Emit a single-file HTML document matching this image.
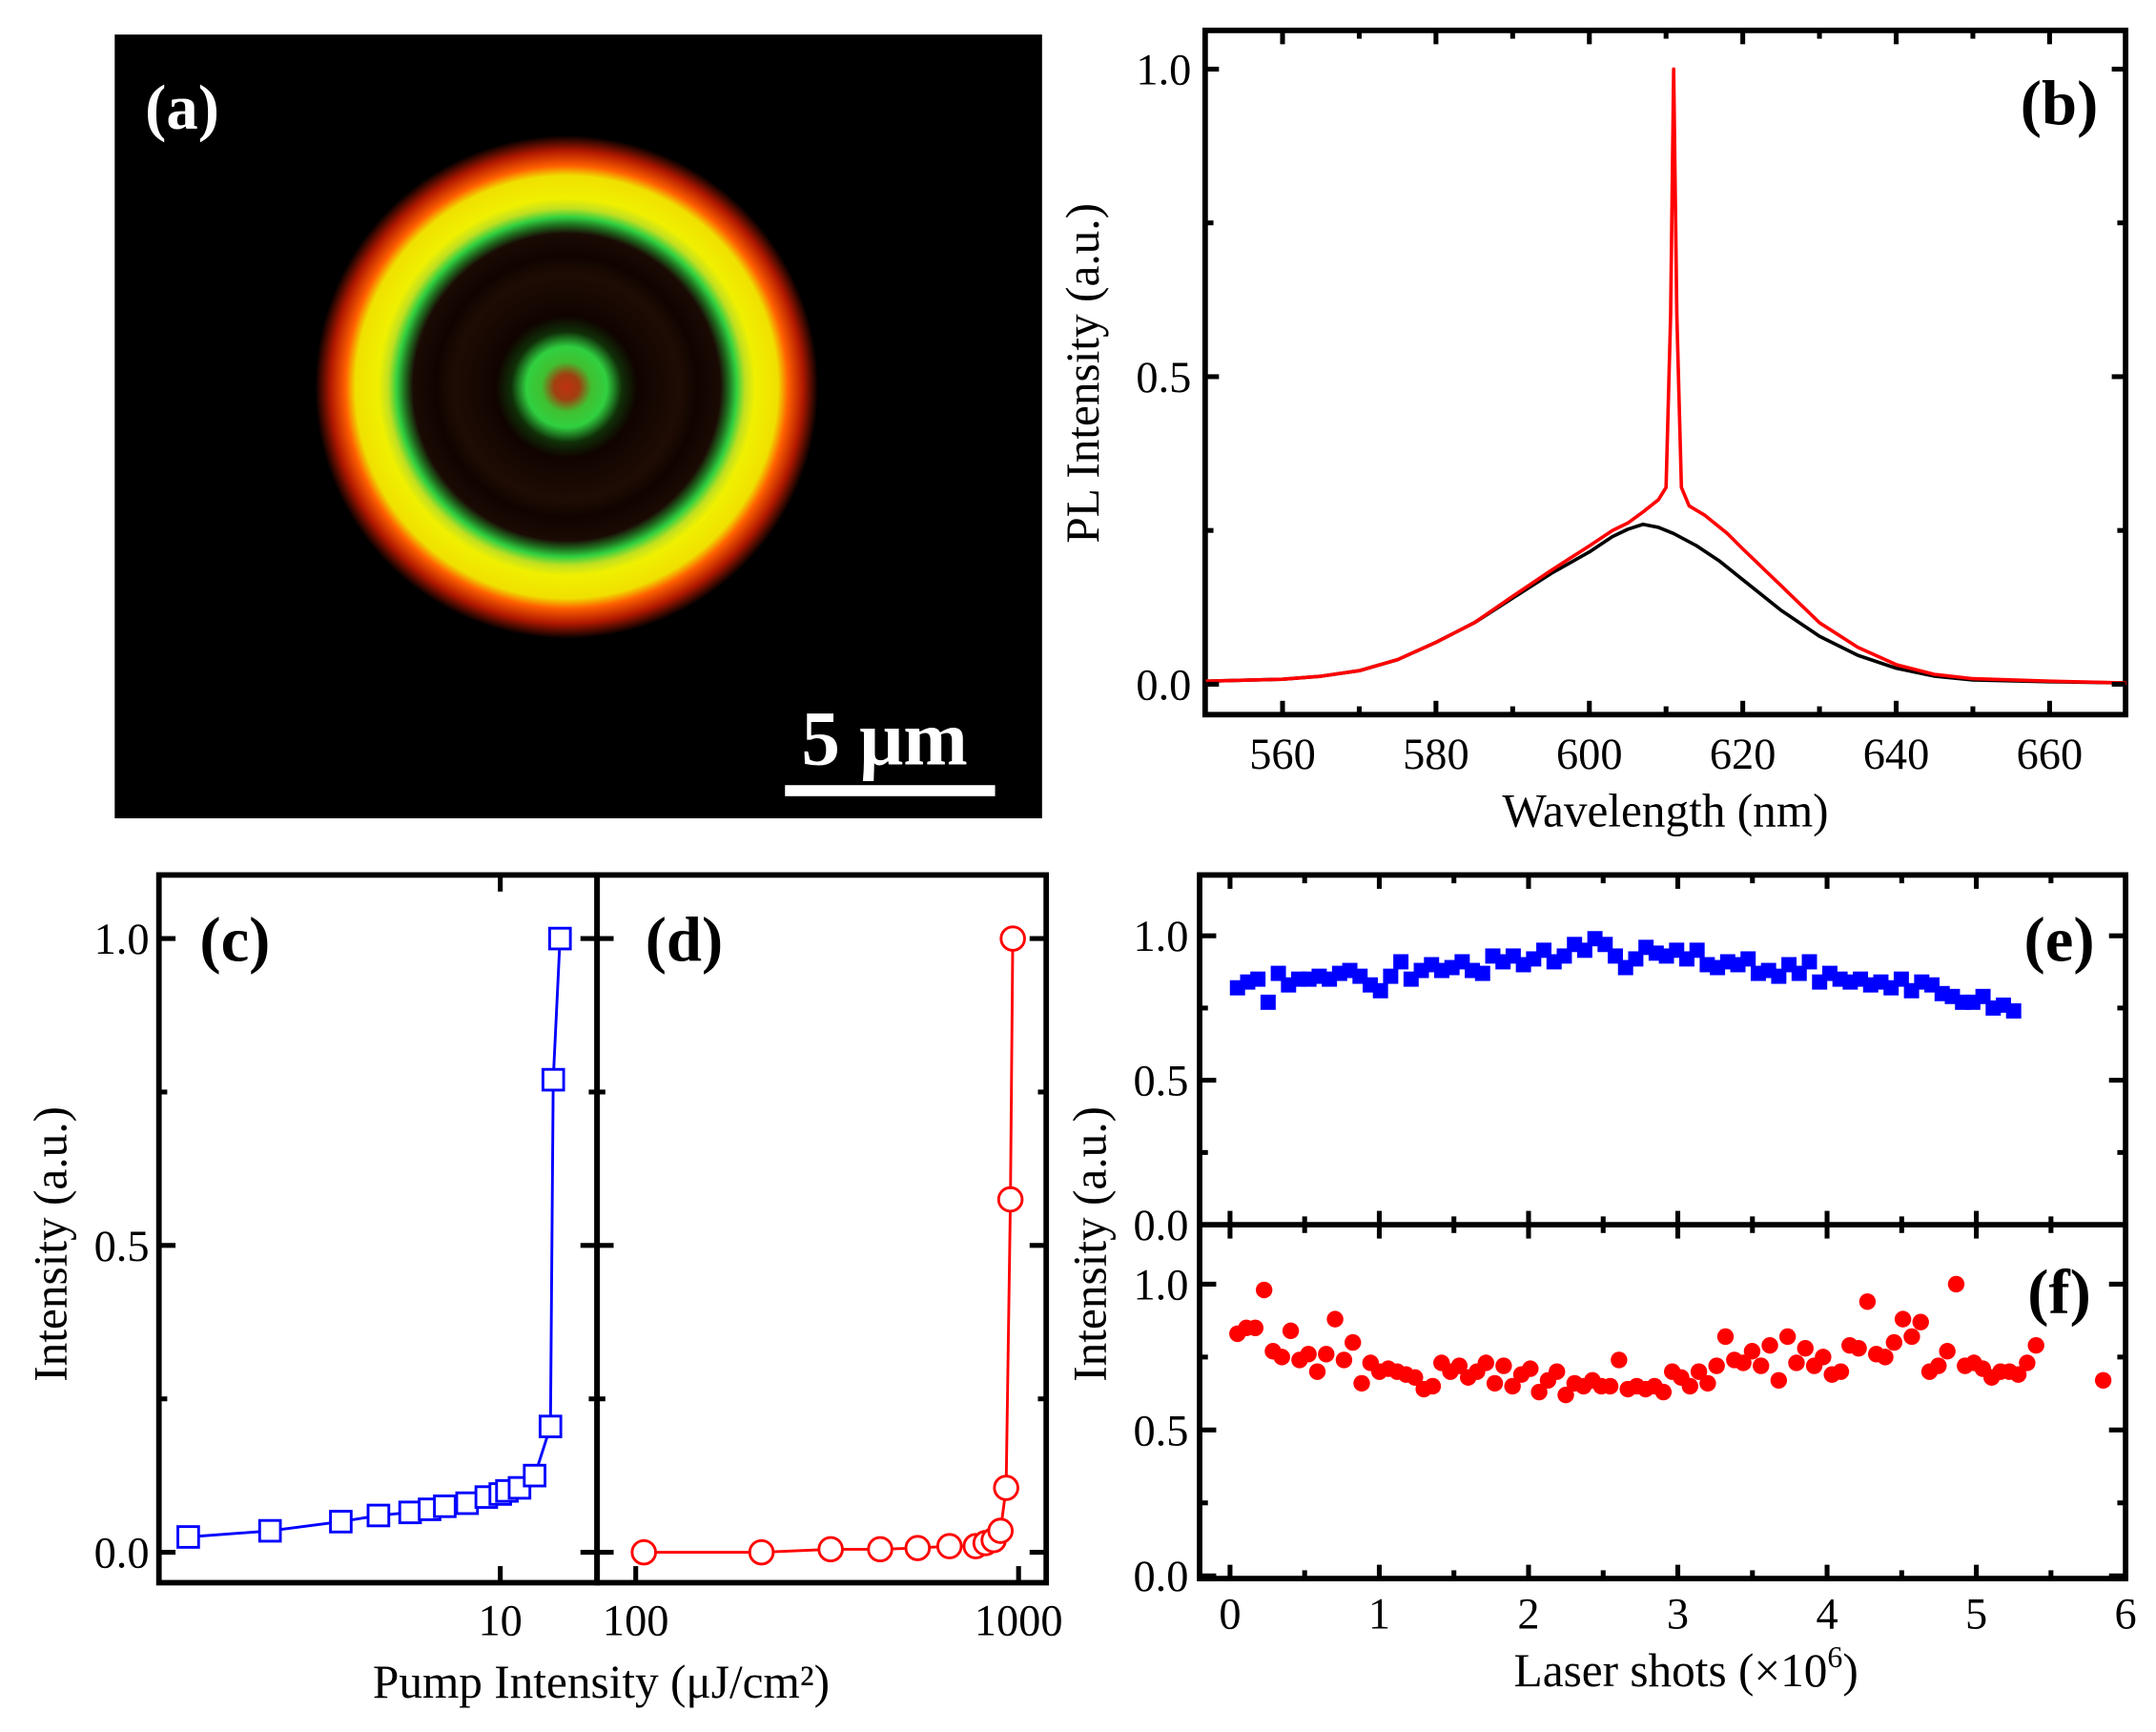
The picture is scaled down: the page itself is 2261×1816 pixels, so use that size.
<!DOCTYPE html>
<html><head><meta charset="utf-8"><style>
html,body{margin:0;padding:0;background:#fff;}
svg{display:block;}
text{font-family:"Liberation Serif",serif;}
</style></head><body>
<svg id="fig" width="2261" height="1816" viewBox="0 0 1560 1253" preserveAspectRatio="none" xmlns="http://www.w3.org/2000/svg">
<defs>
<radialGradient id="ringGrad" cx="0.5" cy="0.5" r="0.5">
<stop offset="0" stop-color="#c03010"/>
<stop offset="0.05" stop-color="#a04010"/>
<stop offset="0.10" stop-color="#40c030"/>
<stop offset="0.16" stop-color="#30d040"/>
<stop offset="0.22" stop-color="#103008"/>
<stop offset="0.28" stop-color="#100400"/>
<stop offset="0.45" stop-color="#1e0c04"/>
<stop offset="0.52" stop-color="#100400"/>
<stop offset="0.61" stop-color="#1a0a04"/>
<stop offset="0.645" stop-color="#207020"/>
<stop offset="0.675" stop-color="#30d040"/>
<stop offset="0.71" stop-color="#c0e020"/>
<stop offset="0.75" stop-color="#f0f000"/>
<stop offset="0.84" stop-color="#f0e000"/>
<stop offset="0.88" stop-color="#ff6000"/>
<stop offset="0.94" stop-color="#b01800"/>
<stop offset="1" stop-color="#000"/>
</radialGradient>
</defs>
<g>
<rect x="83" y="25" width="671" height="567" fill="#000"/>
<circle cx="410" cy="280" r="182" fill="url(#ringGrad)"/>
<text x="105" y="93" font-size="46" font-weight="bold" fill="#fff">(a)</text>
<text x="640" y="553" font-size="56" font-weight="bold" fill="#fff" text-anchor="middle">5 μm</text>
<rect x="568" y="568" width="152" height="8" fill="#fff"/>
</g>
<g id="gb"></g>
<g id="gcd"></g>
<g id="gef"></g>
</svg>
<script>
// ---- Panel b data ----
const bBlackX=[550,560,565,570,575,580,585,590,595,600,603,605,607,609,611,614,617,620,625,630,635,640,645,650,660,670];
const bBlackY=[0.005,0.008,0.013,0.022,0.04,0.068,0.10,0.14,0.18,0.215,0.24,0.252,0.26,0.255,0.245,0.225,0.2,0.17,0.12,0.078,0.047,0.026,0.013,0.007,0.004,0.002];
const bRedX=[550,560,565,570,575,580,585,590,595,600,603,605,607,609,610,610.6,611,611.4,612,613,615,618,620,625,630,635,640,645,650,660,670];
const bRedY=[0.005,0.008,0.013,0.022,0.04,0.068,0.10,0.143,0.185,0.225,0.25,0.262,0.28,0.3,0.32,0.6,1.0,0.6,0.32,0.29,0.275,0.245,0.22,0.16,0.10,0.06,0.032,0.016,0.009,0.005,0.002];
const bXTicks=[560,580,600,620,640,660];
const bYTicks=["0.0","0.5","1.0"];
// ---- Panel c data ----
const cX=[0.267,0.69,1.57,2.43,3.51,4.4,5.25,6.8,8.5,10,10.8,12.5,14.9,17.9,18.5,20];
const cY=[0.025,0.035,0.05,0.06,0.065,0.07,0.075,0.08,0.09,0.095,0.1,0.105,0.125,0.205,0.77,1.0];
// ---- Panel d data ----
const dX=[105,213,323,435,545,660,773,820,861,897,928,952,966];
const dY=[0,0,0.005,0.005,0.007,0.01,0.01,0.015,0.02,0.035,0.105,0.575,1.0];
const cdYTicks=["0.0","0.5","1.0"];
// ---- Panel e/f data ----
const eY=[0.82,0.84,0.85,0.77,0.87,0.83,0.85,0.85,0.86,0.85,0.87,0.88,0.86,0.83,0.81,0.86,0.91,0.85,0.88,0.9,0.88,0.89,0.91,0.88,0.87,0.93,0.91,0.93,0.9,0.92,0.95,0.91,0.93,0.97,0.95,0.99,0.97,0.93,0.89,0.92,0.96,0.94,0.93,0.95,0.92,0.95,0.9,0.89,0.91,0.9,0.92,0.87,0.88,0.86,0.9,0.87,0.91,0.84,0.87,0.85,0.84,0.85,0.83,0.84,0.82,0.85,0.81,0.84,0.83,0.8,0.79,0.77,0.77,0.79,0.75,0.76,0.74];
const eStart=0.05, eEnd=5.25;
const fY=[0.83,0.85,0.85,0.98,0.77,0.75,0.84,0.74,0.76,0.7,0.76,0.88,0.74,0.8,0.66,0.73,0.7,0.71,0.7,0.69,0.68,0.64,0.65,0.73,0.7,0.72,0.68,0.7,0.73,0.66,0.72,0.65,0.69,0.71,0.63,0.67,0.7,0.62,0.66,0.65,0.67,0.65,0.65,0.74,0.64,0.65,0.64,0.65,0.63,0.7,0.68,0.65,0.7,0.66,0.72,0.82,0.74,0.73,0.77,0.72,0.79,0.67,0.82,0.73,0.78,0.72,0.75,0.69,0.7,0.79,0.78,0.94,0.76,0.75,0.8,0.88,0.82,0.87,0.7,0.72,0.77,1.0,0.72,0.73,0.71,0.68,0.7,0.7,0.69,0.73,0.79];
const fStart=0.05, fEnd=5.4;
const fOutX=[5.85], fOutY=[0.67];
const efXTicks=[0,1,2,3,4,5,6];
const efYTicks=["0.0","0.5","1.0"];

const NS="http://www.w3.org/2000/svg";
function mk(parent,tag,attrs,txt){const e=document.createElementNS(NS,tag);for(const k in attrs)e.setAttribute(k,attrs[k]);if(txt!==undefined)e.textContent=txt;parent.appendChild(e);return e;}
function lin(d0,d1,r0,r1){return v=>r0+(v-d0)/(d1-d0)*(r1-r0);}
function lg(d0,d1,r0,r1){return v=>r0+(Math.log10(v)-Math.log10(d0))/(Math.log10(d1)-Math.log10(d0))*(r1-r0);}
function frame(g,x,y,w,h,name){const r=mk(g,'rect',{x:x,y:y,width:w,height:h,fill:'none',stroke:'#000','stroke-width':4});}
function tick(g,x1,y1,x2,y2){const t=mk(g,'line',{x1:x1,y1:y1,x2:x2,y2:y2,stroke:'#000','stroke-width':3.5});}
function label(g,x,y,s,txt,anchor,name,extra){const t=mk(g,'text',Object.assign({x:x,y:y,'font-size':s,'text-anchor':anchor||'middle'},extra||{}),txt);return t;}
function path(g,xs,ys,fx,fy,color,w,name){let d='';xs.forEach((v,i)=>{d+=(i?'L':'M')+fx(v).toFixed(1)+','+fy(ys[i]).toFixed(1);});const p=mk(g,'path',{d:d,fill:'none',stroke:color,'stroke-width':w,'stroke-linejoin':'round'});}

// Panel b
(function(){const g=document.getElementById('gb');
const X=lin(550,670,872.5,1538.5),Y=lin(0,1,495,50);
frame(g,872,22,666,495,'plot-frame-b');
path(g,bBlackX,bBlackY,X,Y,'#000',2.5,'spectrum-below-threshold');
path(g,bRedX,bRedY,X,Y,'#ff0000',2.5,'spectrum-above-threshold');
bXTicks.forEach(v=>{tick(g,X(v),517,X(v),507);tick(g,X(v),22,X(v),32);label(g,X(v),556,32,String(v),'middle','x-tick-label-b');});
[570,590,610,630,650].forEach(v=>{tick(g,X(v),517,X(v),511);tick(g,X(v),22,X(v),28);});
bYTicks.forEach(s=>{const v=parseFloat(s);tick(g,872,Y(v),882,Y(v));tick(g,1538,Y(v),1528,Y(v));label(g,862,Y(v)+11,32,s,'end','y-tick-label-b');});
[0.25,0.75].forEach(v=>{tick(g,872,Y(v),878,Y(v));tick(g,1538,Y(v),1532,Y(v));});
label(g,1205,598,34,'Wavelength (nm)','middle','x-axis-title-b');
label(g,795,270,34,'PL Intensity (a.u.)','middle','y-axis-title-b',{transform:'rotate(-90 795 270)'});
label(g,1490,90,46,'(b)','middle','panel-label-b',{'font-weight':'bold'});
})();

// Panels c,d
(function(){const g=document.getElementById('gcd');
const Y=lin(0,1,1123,679);
const Xc=lg(0.19,10,115,362), Xd=lg(100,1000,460,737);
frame(g,115,633,317,512,'plot-frame-c');
frame(g,432,633,325,512,'plot-frame-d');
cdYTicks.forEach(s=>{const v=parseFloat(s);tick(g,115,Y(v),127,Y(v));tick(g,432,Y(v),420,Y(v));tick(g,432,Y(v),444,Y(v));tick(g,757,Y(v),745,Y(v));label(g,108,Y(v)+11,32,s,'end','y-tick-label-c');});
[0.25,0.75].forEach(v=>{tick(g,115,Y(v),121,Y(v));tick(g,432,Y(v),426,Y(v));tick(g,432,Y(v),438,Y(v));tick(g,757,Y(v),751,Y(v));});
tick(g,Xc(10),1145,Xc(10),1133);tick(g,Xc(10),633,Xc(10),645);
tick(g,Xd(100),1145,Xd(100),1133);tick(g,Xd(1000),1145,Xd(1000),1133);
label(g,Xc(10),1183,32,'10','middle','x-tick-label-c');
label(g,Xd(100),1183,32,'100','middle','x-tick-label-d');
label(g,Xd(1000),1183,32,'1000','middle','x-tick-label-d');
path(g,cX,cY,Xc,Y,'#0000ff',2,'threshold-line-c');
cX.forEach((v,i)=>{const r=mk(g,'rect',{x:Xc(v)-7.5,y:Y(cY[i])-7.5,width:15,height:15,fill:'#fff',stroke:'#0000ff','stroke-width':2});

});
path(g,dX,dY,Xd,Y,'#ff0000',2,'threshold-line-d');
dX.forEach((v,i)=>{const c=mk(g,'circle',{cx:Xd(v),cy:Y(dY[i]),r:8.5,fill:'#fff',stroke:'#ff0000','stroke-width':2});

});
label(g,435,1228,34,'Pump Intensity (μJ/cm²)','middle','x-axis-title-cd');
label(g,48,900,34,'Intensity (a.u.)','middle','y-axis-title-cd',{transform:'rotate(-90 48 900)'});
label(g,170,695,46,'(c)','middle','panel-label-c',{'font-weight':'bold'});
label(g,495,695,46,'(d)','middle','panel-label-d',{'font-weight':'bold'});
})();

// Panels e,f
(function(){const g=document.getElementById('gef');
const X=lin(0,6,890,1538), Ye=lin(0,1,886,677), Yf=lin(0,1,1140,929);
frame(g,868,633,670,509,'plot-frame-ef');
const ln=mk(g,'line',{x1:868,y1:886,x2:1538,y2:886,stroke:'#000','stroke-width':4});

efXTicks.forEach(v=>{[[1142,-10],[633,10],[886,-10],[886,10]].forEach(p=>tick(g,X(v),p[0],X(v),p[0]+p[1]));label(g,X(v),1178,32,String(v),'middle','x-tick-label-ef');});
[0.5,1.5,2.5,3.5,4.5,5.5].forEach(v=>{[[1142,-6],[633,6],[886,-6],[886,6]].forEach(p=>tick(g,X(v),p[0],X(v),p[0]+p[1]));});
efYTicks.forEach(s=>{const v=parseFloat(s);[Ye,Yf].forEach(Y=>{tick(g,868,Y(v),880,Y(v));tick(g,1538,Y(v),1526,Y(v));label(g,860,Y(v)+11,32,s,'end','y-tick-label-ef');});});
[0.25,0.75].forEach(v=>{[Ye,Yf].forEach(Y=>{tick(g,868,Y(v),874,Y(v));tick(g,1538,Y(v),1532,Y(v));});});
eY.forEach((v,i)=>{const xv=eStart+i*(eEnd-eStart)/(eY.length-1);
const r=mk(g,'rect',{x:X(xv)-5.5,y:Ye(v)-5.5,width:11,height:11,fill:'#0000ff'});

});
fY.forEach((v,i)=>{const xv=fStart+i*(fEnd-fStart)/(fY.length-1);
const c=mk(g,'circle',{cx:X(xv),cy:Yf(v),r:6,fill:'#ff0000'});

});
fOutX.forEach((v,i)=>{const c=mk(g,'circle',{cx:X(v),cy:Yf(fOutY[i]),r:6,fill:'#ff0000'});

});
const t=label(g,1220,1220,34,'Laser shots (×10','middle','x-axis-title-ef');
mk(t,'tspan',{dy:-14,'font-size':22},'6');mk(t,'tspan',{dy:14},')');
label(g,800,900,34,'Intensity (a.u.)','middle','y-axis-title-ef',{transform:'rotate(-90 800 900)'});
label(g,1490,695,46,'(e)','middle','panel-label-e',{'font-weight':'bold'});
label(g,1490,950,46,'(f)','middle','panel-label-f',{'font-weight':'bold'});
})();
</script>
</body></html>
